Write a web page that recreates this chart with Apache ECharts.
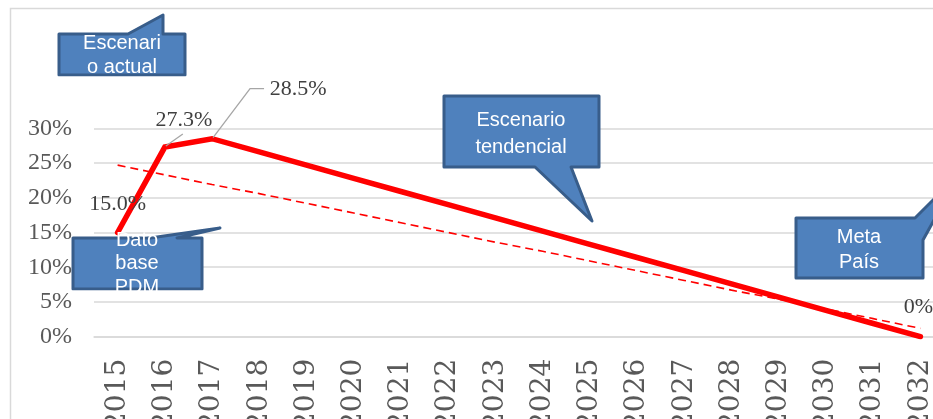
<!DOCTYPE html>
<html><head><meta charset="utf-8">
<script src="https://cdn.jsdelivr.net/npm/echarts@6/dist/echarts.min.js"></script>
<style>html,body{margin:0;padding:0;background:#fff}#c{width:933px;height:419px}</style>
</head><body><div id="c"></div>
<script>
// ---- data ----
const years = ['2015','2016','2017','2018','2019','2020','2021','2022','2023','2024','2025','2026','2027','2028','2029','2030','2031','2032'];
const actualValues = [15.0, 27.3, 28.5, 26.6, 24.7, 22.8, 20.9, 19.0, 17.1, 15.2, 13.3, 11.4, 9.5, 7.6, 5.7, 3.8, 1.9, 0];
const trendValues = [24.7, 23.3, 21.9, 20.6, 19.2, 17.8, 16.4, 15.0, 13.6, 12.3, 10.9, 9.5, 8.1, 6.7, 5.4, 4.0, 2.6, 1.2];
const pointLabels = ['15.0%','27.3%','28.5%','','','','','','','','','','','','','','','0%'];
const yMin = 0, yMax = 30, yStep = 5;
const calloutActual = ['Escenari', 'o actual'];
const calloutTrend = ['Escenario', 'tendencial'];
const calloutBase = ['Dato', 'base', 'PDM'];
const calloutGoal = ['Meta', 'País'];

// ---- layout / style (not data) ----
const labelShift = {0: [0, -12], 1: [19, -11], 2: [86, -34], 17: [-2, -13]};
// leader line bends, relative to the data point (index -> list of offsets)
const leaderBends = {1: [[1, -1], [18, -13]], 2: [[1, -1], [38, -50], [52, -50]]};
const BLUE = '#4F81BD', BLUE_EDGE = '#385D8A';
const SERIF = '"Liberation Serif", "DejaVu Serif", serif';
const SERIF2 = '"DejaVu Serif", "Liberation Serif", serif';
const SANS = '"Liberation Sans", Arial, sans-serif';

function callout(points, lines, cx, cy, lh, z) {
  return [
    {type: 'polygon', z: z, silent: true, shape: {points: points},
     style: {fill: BLUE, stroke: BLUE_EDGE, lineWidth: 3, lineJoin: 'round'}},
    {type: 'text', z: z + 1, silent: true, x: cx, y: cy,
     style: {text: lines.join('\n'), fill: '#fff', font: '20px ' + SANS,
             textAlign: 'center', textVerticalAlign: 'middle', lineHeight: lh}}
  ];
}

const graphics = [].concat(
  [{type: 'rect', z: 1, silent: true, shape: {x: 10.5, y: 8.5, width: 960, height: 440},
    style: {fill: 'none', stroke: '#d9d9d9', lineWidth: 1.5}}],
  callout([[59,34],[128,34],[163,15],[163,34],[185,34],[185,75],[59,75]], calloutActual, 122, 55, 24, 100),
  [{type: 'rect', z: 103, silent: true, shape: {x: 56, y: 76.6, width: 132, height: 9}, style: {fill: '#fff'}}],
  callout([[444,96],[599,96],[599,167],[571,167],[592,221],[535,167],[444,167]], calloutTrend, 521, 133.5, 27, 110),
  callout([[73,238],[150,238],[220,228],[177,238],[202,238],[202,289],[73,289]], calloutBase, 137, 263.5, 23.5, 120),
  [{type: 'rect', z: 123, silent: true, shape: {x: 70, y: 290.6, width: 135, height: 9}, style: {fill: '#fff'}}],
  callout([[796,218],[915,218],[945,188],[945,200],[923,240],[923,278],[796,278]], calloutGoal, 859, 249.5, 25, 130)
);

const chart = echarts.init(document.getElementById('c'), null, {renderer: 'canvas'});
const option = {
  animation: false,
  backgroundColor: '#fff',
  grid: {left: 94, top: 128.3, width: 850, height: 208.4, containLabel: false, outerBoundsMode: 'none'},
  xAxis: {
    type: 'category', data: years, boundaryGap: true,
    axisLine: {lineStyle: {color: '#d9d9d9', width: 1.5}},
    axisTick: {show: false},
    axisLabel: {rotate: 90, margin: 22, color: '#595959', fontFamily: SERIF2, fontSize: 28, interval: 0}
  },
  yAxis: {
    type: 'value', min: yMin, max: yMax, interval: yStep,
    axisLine: {show: false}, axisTick: {show: false},
    axisLabel: {formatter: '{value}%', color: '#595959', fontFamily: SERIF, fontSize: 24, margin: 22},
    splitLine: {lineStyle: {color: '#d9d9d9', width: 1.5}}
  },
  series: [
    {
      type: 'line', name: 'Tendencia', data: trendValues, showSymbol: false, silent: true, z: 2,
      lineStyle: {color: '#ff0000', width: 1.6, type: [8, 5]}
    },
    {
      type: 'line', name: 'Escenario', showSymbol: true, symbol: 'circle', symbolSize: 0, silent: true, z: 3,
      itemStyle: {color: '#ff0000'},
      lineStyle: {color: '#ff0000', width: 5.5, cap: 'round', join: 'miter'},
      data: actualValues.map((v, i) => ({
        value: v,
        label: {show: pointLabels[i] !== '', formatter: pointLabels[i]}
      })),
      label: {position: 'top', distance: 5, color: '#404040', fontFamily: SERIF, fontSize: 22},
      labelLayout: function (p) {
        const s = labelShift[p.dataIndex];
        return s ? {dx: s[0], dy: s[1]} : {};
      }
    }
  ],
  graphic: graphics
};
chart.setOption(option);

// leader lines anchored on the data points through the axes' scales
const leaders = Object.keys(leaderBends).map(function (k) {
  const i = +k;
  const p = chart.convertToPixel({gridIndex: 0}, [years[i], actualValues[i]]);
  return {type: 'polyline', z: 50, silent: true,
    shape: {points: leaderBends[k].map(o => [p[0] + o[0], p[1] + o[1]])},
    style: {stroke: '#a6a6a6', lineWidth: 1.3, fill: null}};
});
chart.setOption({graphic: graphics.concat(leaders)});
</script></body></html>
